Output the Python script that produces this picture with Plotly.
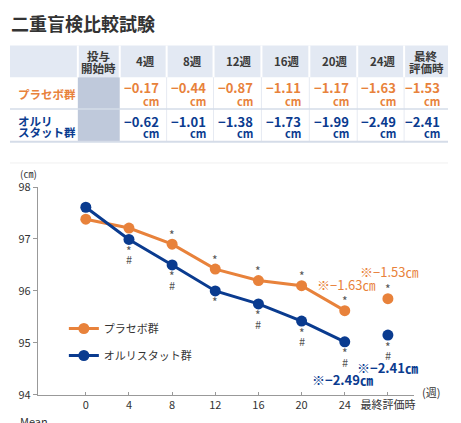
import plotly.graph_objects as go

W, H = 461, 423
FONT = "Noto Sans CJK JP"
ORANGE = "#e8823b"
BLUE = "#0a3b8f"
DARK = "#333333"
GRAY = "#555555"

# ---------------- data ----------------
weeks_labels = ["0", "4", "8", "12", "16", "20", "24", "最終評価時"]
placebo_values = [97.38, 97.21, 96.90, 96.42, 96.20, 96.10, 95.62, 95.85]
olistat_values = [97.61, 96.99, 96.50, 96.00, 95.75, 95.42, 95.02, 95.15]
placebo_sig = ["", "", "*", "*", "*", "*", "*", "*"]
olistat_sig = ["", "*#", "*#", "*", "*#", "*#", "*#", "*#"]

table_headers = [["投与", "開始時"], ["4週"], ["8週"], ["12週"], ["16週"], ["20週"], ["24週"], ["最終", "評価時"]]
placebo_change = [-0.17, -0.44, -0.87, -1.11, -1.17, -1.63, -1.53]
olistat_change = [-0.62, -1.01, -1.38, -1.73, -1.99, -2.49, -2.41]
group_names = ["プラセボ群", "オルリスタット群"]
group_label_lines = [["プラセボ群"], ["オルリ", "スタット群"]]

title_text = "二重盲検比較試験"


def px(x):
    return x / W


def py(y):
    return 1 - y / H


def fmt(v):
    return ("−" if v < 0 else "") + f"{abs(v):.2f}"


def pann(x, y, text, size, color, xanchor="center", yanchor="middle"):
    return dict(x=px(x), y=py(y), xref="paper", yref="paper", text=text, showarrow=False,
                xanchor=xanchor, yanchor=yanchor, font=dict(size=size, color=color, family=FONT))


fig = go.Figure()

n = len(weeks_labels)
xs = list(range(n))

fig.add_trace(go.Scatter(x=xs[:-1], y=placebo_values[:-1], mode="lines+markers",
                         name=group_names[0], legendgroup="p",
                         line=dict(color=ORANGE, width=3),
                         marker=dict(color=ORANGE, size=11), cliponaxis=False))
fig.add_trace(go.Scatter(x=xs[-1:], y=placebo_values[-1:], mode="markers",
                         showlegend=False, legendgroup="p",
                         marker=dict(color=ORANGE, size=11), cliponaxis=False))
fig.add_trace(go.Scatter(x=xs[:-1], y=olistat_values[:-1], mode="lines+markers",
                         name=group_names[1], legendgroup="o",
                         line=dict(color=BLUE, width=3),
                         marker=dict(color=BLUE, size=11), cliponaxis=False))
fig.add_trace(go.Scatter(x=xs[-1:], y=olistat_values[-1:], mode="markers",
                         showlegend=False, legendgroup="o",
                         marker=dict(color=BLUE, size=11), cliponaxis=False))

ann = []
shapes = []


def dann(x, y, text, size, color, xshift=0, yshift=0):
    return dict(x=x, y=y, xref="x", yref="y", text=text, showarrow=False,
                xanchor="center", yanchor="middle", xshift=xshift, yshift=yshift,
                font=dict(size=size, color=color, family=FONT))


# significance marks
for i, s in enumerate(placebo_sig):
    if s:
        ann.append(dann(i, placebo_values[i], s, 12, GRAY, yshift=10))
for i, s in enumerate(olistat_sig):
    for k, ch in enumerate(s):
        ann.append(dann(i, olistat_values[i], ch, 12 if ch == "*" else 11, GRAY, yshift=-11 - 9 * k))

# callouts
ann.append(dann(n - 1, placebo_values[-1], "※−" + f"{abs(placebo_change[-1]):.2f}" + "㎝", 13, ORANGE, 1, 27))
ann.append(dann(n - 2, placebo_values[-2], "※−" + f"{abs(placebo_change[-2]):.2f}" + "㎝", 13, ORANGE, 1, 26))
ann.append(dann(n - 1, olistat_values[-1], "<b>※−" + f"{abs(olistat_change[-1]):.2f}" + "㎝</b>", 13, BLUE, 0, -32))
ann.append(dann(n - 2, olistat_values[-2], "<b>※−" + f"{abs(olistat_change[-2]):.2f}" + "㎝</b>", 13, BLUE, -2, -38))

# axis unit labels
ann.append(pann(29, 171, "(㎝)", 10, DARK))
ann.append(pann(432, 398, "(週)", 11, DARK))
ann.append(pann(18, 418, "Mean", 11, DARK, xanchor="left", yanchor="top"))

# ---------------- title ----------------
ann.append(pann(9, 15, "<b>" + title_text + "</b>", 18, DARK, xanchor="left"))

# ---------------- table ----------------
col_edges = [10, 78, 120, 167, 214, 262, 310, 358, 405, 449]
row_edges = [38, 71, 104, 138]
HDR_BG = "#e3e9f3"
BASE_BG = "#bfc9db"
LINE = "#d5dce8"

shapes.append(dict(type="rect", xref="paper", yref="paper", x0=px(col_edges[0]), x1=px(col_edges[-1]),
                   y0=py(row_edges[1]), y1=py(row_edges[0]), fillcolor=HDR_BG, line=dict(width=0), layer="below"))
shapes.append(dict(type="rect", xref="paper", yref="paper", x0=px(col_edges[1]), x1=px(col_edges[2]),
                   y0=py(row_edges[3]), y1=py(row_edges[1]), fillcolor=BASE_BG, line=dict(width=0), layer="below"))
for xe in col_edges[1:-1]:
    shapes.append(dict(type="line", xref="paper", yref="paper", x0=px(xe), x1=px(xe),
                       y0=py(row_edges[1]), y1=py(row_edges[0]), line=dict(color="white", width=2)))
    if xe > col_edges[2]:
        shapes.append(dict(type="line", xref="paper", yref="paper", x0=px(xe), x1=px(xe),
                           y0=py(row_edges[3]), y1=py(row_edges[1]), line=dict(color="#e6eaf2", width=1)))
shapes.append(dict(type="line", xref="paper", yref="paper", x0=px(col_edges[0]), x1=px(col_edges[-1]),
                   y0=py(row_edges[2]), y1=py(row_edges[2]), line=dict(color=LINE, width=1.5)))
shapes.append(dict(type="line", xref="paper", yref="paper", x0=px(col_edges[0]), x1=px(col_edges[-1]),
                   y0=py(row_edges[3]), y1=py(row_edges[3]), line=dict(color=LINE, width=2)))
shapes.append(dict(type="line", xref="paper", yref="paper", x0=px(10), x1=px(449),
                   y0=py(160), y1=py(160), line=dict(color="#f0f0f0", width=1)))

# header texts
for j, lines in enumerate(table_headers):
    cx = (col_edges[j + 1] + col_edges[j + 2]) / 2 + (2 if len(lines) == 1 else 0)
    ys = [54.5] if len(lines) == 1 else [49, 61]
    for line_txt, yy in zip(lines, ys):
        ann.append(pann(cx, yy, "<b>" + line_txt + "</b>", 11.5, "#3a3a3a"))

# row labels
label_colors = [ORANGE, BLUE]
label_ys = [[88], [116, 128]]
for g in range(2):
    for line_txt, yy in zip(group_label_lines[g], label_ys[g]):
        ann.append(pann(16, yy, "<b>" + line_txt + "</b>", 11.5, label_colors[g], xanchor="left"))

# values
for g, vals in enumerate([placebo_change, olistat_change]):
    vy, cy = ([82, 96], [117, 129])[g]
    for j, v in enumerate(vals):
        rx = col_edges[j + 3] - 6
        ann.append(pann(rx, vy, "<b>" + fmt(v) + "</b>", 13, label_colors[g], xanchor="right"))
        ann.append(pann(rx, cy, "<b>cm</b>", 11, label_colors[g], xanchor="right"))

# ---------------- axes ----------------
x0p, x1p, x_zero, step = 38, 415, 86, 43.25
fig.update_layout(
    width=W, height=H,
    margin=dict(l=0, r=0, t=0, b=0),
    paper_bgcolor="white", plot_bgcolor="white",
    font=dict(family=FONT, color=DARK),
    xaxis=dict(domain=[px(x0p), px(x1p)],
               range=[-(x_zero - x0p) / step, (x1p - x_zero) / step],
               tickvals=xs, ticktext=weeks_labels, showgrid=False, zeroline=False,
               showline=True, linecolor="#999999", linewidth=1,
               ticks="inside", ticklen=3, tickcolor="#999999",
               tickfont=dict(size=11, color=DARK, family=FONT)),
    yaxis=dict(domain=[py(401), py(185)], range=[94, 98], dtick=1,
               showgrid=False, zeroline=False,
               showline=True, linecolor="#999999", linewidth=1,
               ticks="outside", ticklen=4, tickcolor="#999999",
               tickfont=dict(size=11, color=DARK, family=FONT)),
    showlegend=True,
    legend=dict(x=px(64), y=py(317), xanchor="left", yanchor="top",
                bgcolor="rgba(0,0,0,0)", tracegroupgap=8,
                font=dict(size=11, color=DARK, family=FONT)),
    annotations=ann,
    shapes=shapes,
)

post = (
    "document.documentElement.style.margin='0';"
    "document.documentElement.style.overflow='hidden';"
    "document.body.style.margin='0';"
    "document.body.style.overflow='hidden';"
    "document.querySelectorAll('svg').forEach(function(s){s.style.overflow='hidden';});"
    "document.querySelectorAll('.svg-container, .plotly-graph-div').forEach(function(d){d.style.overflow='hidden';});"
)
fig.write_html("out.html", config={"displayModeBar": False}, post_script=post)
